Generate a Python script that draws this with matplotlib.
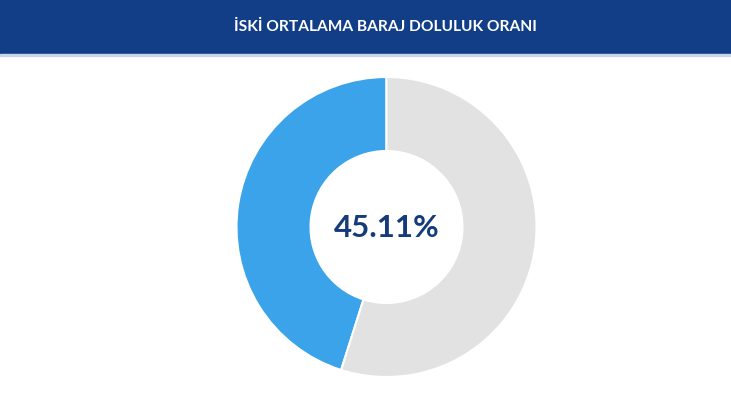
import matplotlib
matplotlib.use("agg")
import matplotlib.pyplot as plt
from matplotlib.patches import Rectangle

title = "İSKİ ORTALAMA BARAJ DOLULUK ORANI"
labels = ["Doluluk", "Boş"]
values = [45.11, 100 - 45.11]
colors = ["#3ba3e9", "#e2e2e2"]

W, H = 731, 410
fig = plt.figure(figsize=(W / 100, H / 100), dpi=100)
ax = fig.add_axes([0, 0, 1, 1])

# header band
ax.add_patch(Rectangle((0, H - 55), W, 55, color="#113e87", zorder=1))
ax.add_patch(Rectangle((0, H - 57), W, 2, color="#c9d6ea", zorder=1))
ax.text(385, H - 27, title, color="white", fontsize=11.2, fontweight="bold",
        family=["Lato", "DejaVu Sans"], ha="center", va="center")

# donut
ax.pie(values, colors=colors, startangle=90, counterclock=True,
       center=(386.5, H - 228), radius=150, frame=True,
       wedgeprops=dict(width=74, edgecolor="white", linewidth=1.5))
ax.text(387, H - 228, f"{values[0]:.2f}%", color="#143b7a", fontsize=22.5,
        fontweight="bold", family=["Lato", "DejaVu Sans"], ha="center", va="center")

ax.set_xlim(0, W)
ax.set_ylim(0, H)
ax.set_aspect("auto")
ax.axis("off")

fig.savefig("out.png", dpi=100)
